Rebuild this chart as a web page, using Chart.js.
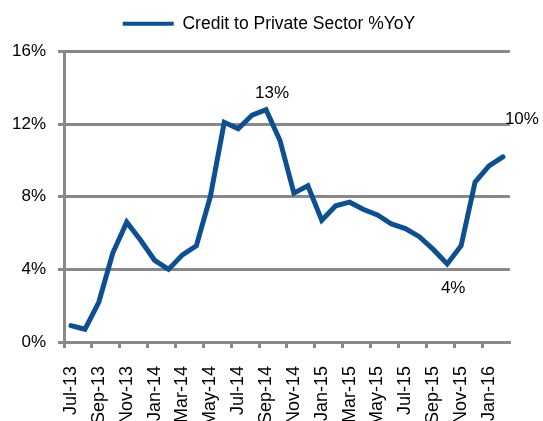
<!DOCTYPE html>
<html>
<head>
<meta charset="utf-8">
<script src="https://cdn.jsdelivr.net/npm/chart.js@4/dist/chart.umd.min.js"></script>
<style>
html,body{margin:0;padding:0;background:#fff;overflow:hidden;}
#wrap{width:543px;height:421px;}
</style>
</head>
<body>
<div id="wrap"><canvas id="chart" width="543" height="421"></canvas></div>
<script>
var months = ["Jul-13","Aug-13","Sep-13","Oct-13","Nov-13","Dec-13",
	"Jan-14","Feb-14","Mar-14","Apr-14","May-14","Jun-14","Jul-14","Aug-14","Sep-14","Oct-14","Nov-14","Dec-14",
	"Jan-15","Feb-15","Mar-15","Apr-15","May-15","Jun-15","Jul-15","Aug-15","Sep-15","Oct-15","Nov-15","Dec-15",
	"Jan-16","Feb-16"];
var credit = [0.9, 0.7, 2.2, 4.9, 6.6, 5.6,
	4.5, 4.0, 4.8, 5.3, 8.0, 12.1, 11.75, 12.5, 12.8, 11.1, 8.2, 8.6,
	6.7, 7.5, 7.7, 7.3, 7.0, 6.5, 6.25, 5.8, 5.1, 4.3, 5.3, 8.8,
	9.7, 10.2];
var yTicks = [0, 4, 8, 12, 16];
var seriesName = "Credit to Private Sector %YoY";
// points that carry a value label
var labelled = [14, 27, 31];

var blue = "#0b4f96";
var gray = "#898989";
var font = "'Liberation Sans', Arial, sans-serif";

// label offsets from the point (px)
var labelShift = {14: [6, -16], 27: [6, 24], 31: [19, -37]};

var pointLabels = {
	id: "pointLabels",
	afterDatasetsDraw: function(chart){
		var ctx = chart.ctx;
		var meta = chart.getDatasetMeta(0);
		ctx.save();
		ctx.font = "17px " + font;
		ctx.fillStyle = "#000";
		ctx.textAlign = "center";
		ctx.textBaseline = "middle";
		labelled.forEach(function(i){
			var p = meta.data[i];
			var s = labelShift[i];
			ctx.fillText(Math.round(credit[i]) + "%", p.x + s[0], p.y + s[1]);
		});
		ctx.restore();
	}
};

// more room under the legend, and nudge it right a bit
var legendTweak = {
	id: "legendTweak",
	beforeUpdate: function(chart){
		var lg = chart.legend;
		if(!lg || lg._tweaked) return;
		lg._tweaked = true;
		var fit = lg.fit, draw = lg.draw;
		lg.fit = function(){
			fit.call(this);
			this.height += 9;
		};
		lg.draw = function(){
			this.ctx.save();
			this.ctx.translate(13, 0);
			draw.call(this);
			this.ctx.restore();
		};
	}
};

var ctx = document.getElementById("chart");
var myChart = new Chart(ctx, {
	type: "line",
	data: {
		labels: months,
		datasets: [{
			label: seriesName,
			data: credit,
			borderColor: blue,
			backgroundColor: blue,
			borderWidth: 5,
			borderCapStyle: "round",
			pointRadius: 0,
			tension: 0
		}]
	},
	options: {
		responsive: false,
		animation: false,
		layout: {padding: {left: 0, right: 31, top: 7, bottom: 0}},
		plugins: {
			tooltip: {enabled: false},
			legend: {
				position: "top",
				labels: {
					font: {family: font, size: 17.5},
					color: "#000",
					boxWidth: 51,
					boxHeight: 4,
					padding: 8,
					generateLabels: function(chart){
						return Chart.defaults.plugins.legend.labels.generateLabels(chart).map(function(l){
							l.lineWidth = 0;
							return l;
						});
					}
				}
			}
		},
		scales: {
			x: {
				offset: true,
				grid: {
					offset: true,
					drawOnChartArea: false,
					tickLength: 6,
					lineWidth: 3,
					color: function(c){ return c.index % 2 === 0 ? gray : "rgba(0,0,0,0)"; }
				},
				border: {color: gray, width: 3},
				ticks: {
					autoSkip: false,
					maxRotation: 90,
					minRotation: 90,
					padding: 18,
					color: "#000",
					font: {family: font, size: 18},
					callback: function(val, idx){
						return idx % 2 === 0 ? this.getLabelForValue(val) : "";
					}
				},
				afterFit: function(scale){ scale.height = 79; }
			},
			y: {
				min: yTicks[0],
				max: yTicks[yTicks.length - 1],
				afterBuildTicks: function(scale){
					scale.ticks = yTicks.map(function(v){ return {value: v}; });
				},
				grid: {color: gray, lineWidth: 3, tickLength: 6},
				border: {color: gray, width: 3},
				ticks: {
					padding: 12,
					color: "#000",
					font: {family: font, size: 17},
					callback: function(v){ return v + "%"; }
				}
			}
		}
	},
	plugins: [pointLabels, legendTweak]
});
</script>
</body>
</html>
